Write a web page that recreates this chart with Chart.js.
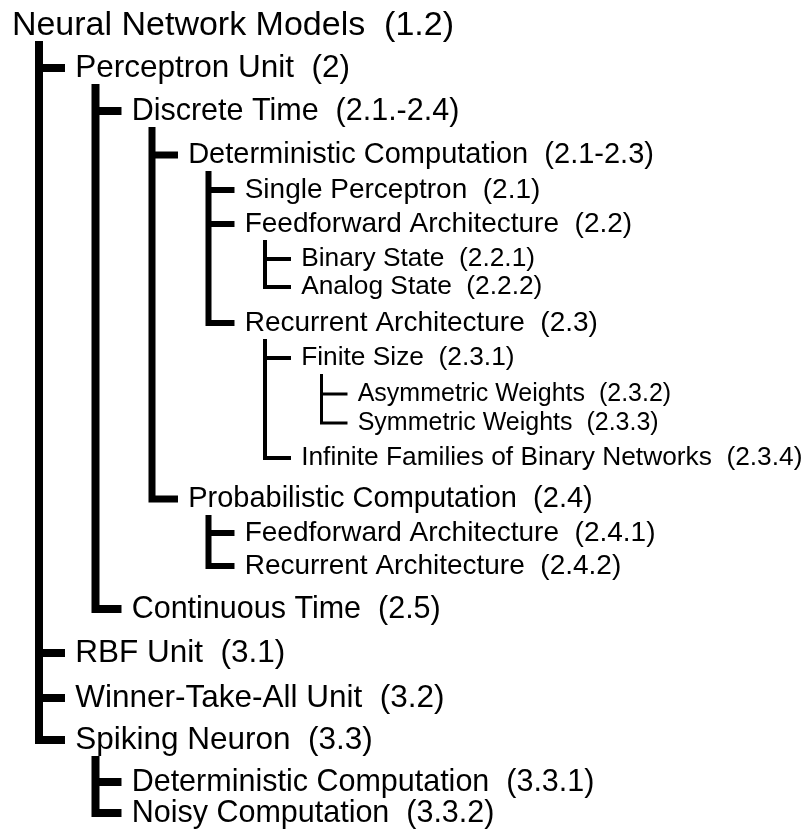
<!DOCTYPE html>
<html>
<head>
<meta charset="utf-8">
<script src="https://cdn.jsdelivr.net/npm/chart.js@4.4.1/dist/chart.umd.min.js"></script>
<style>
  html, body { margin: 0; padding: 0; background: #fff; }
  canvas { display: block; }
</style>
</head>
<body>
<canvas id="arbol" width="812" height="832"></canvas>
<script>
// Nodos del arbol, en orden de lectura
const labels = [
  "Neural Network Models",
  "Perceptron Unit",
  "Discrete Time",
  "Deterministic Computation",
  "Single Perceptron",
  "Feedforward Architecture",
  "Binary State",
  "Analog State",
  "Recurrent Architecture",
  "Finite Size",
  "Asymmetric Weights",
  "Symmetric Weights",
  "Infinite Families of Binary Networks",
  "Probabilistic Computation",
  "Feedforward Architecture",
  "Recurrent Architecture",
  "Continuous Time",
  "RBF Unit",
  "Winner-Take-All Unit",
  "Spiking Neuron",
  "Deterministic Computation",
  "Noisy Computation",
];
const codes = [
  "1.2", "2", "2.1.-2.4", "2.1-2.3", "2.1", "2.2", "2.2.1", "2.2.2",
  "2.3", "2.3.1", "2.3.2", "2.3.3", "2.3.4", "2.4", "2.4.1", "2.4.2",
  "2.5", "3.1", "3.2", "3.3", "3.3.1", "3.3.2",
];
const depths = [0, 1, 2, 3, 4, 4, 5, 5, 4, 5, 6, 6, 5, 3, 4, 4, 2, 1, 1, 1, 2, 2];
const rows = [
  25, 68, 111, 155, 190, 224, 259, 287, 323, 358, 394,
  423, 458, 499, 533, 566, 609, 653, 698, 740, 782, 813,
];

// Estilos por nivel
const fontSize = [34, 31.5, 30.5, 29, 28, 26.3, 25];
const lineWidth = [8, 8, 7, 6, 4, 3];
const STUB = 0.46;      // largo de la rama horizontal
const TEXT_GAP = 0.64;  // donde empieza el texto
const STEM_GAP = 16;    // espacio bajo el padre

function childrenOf(i) {
  const kids = [];
  for (let j = i + 1; j < depths.length; j++) {
    if (depths[j] <= depths[i]) break;
    if (depths[j] === depths[i] + 1) kids.push(j);
  }
  return kids;
}

// Un dataset por cada nodo con hijos: tallo vertical + ramas
const datasets = [];
labels.forEach((lab, i) => {
  const kids = childrenOf(i);
  if (!kids.length) return;
  const d = depths[i];
  const last = kids[kids.length - 1];
  const pts = [
    { x: d, y: rows[i] + STEM_GAP },
    { x: d, y: rows[last] },
    { x: d + STUB, y: rows[last] },
  ];
  kids.slice(0, -1).forEach((k) => {
    pts.push({ x: d, y: null });
    pts.push({ x: d, y: rows[k] });
    pts.push({ x: d + STUB, y: rows[k] });
  });
  datasets.push({
    data: pts,
    showLine: true,
    spanGaps: false,
    borderColor: "#000",
    borderWidth: lineWidth[d],
    borderCapStyle: "butt",
    borderJoinStyle: "miter",
    pointRadius: 0,
    tension: 0,
  });
});

// Plugin para escribir los textos de cada nodo
const nodeText = {
  id: "nodeText",
  afterDatasetsDraw(chart) {
    const { ctx, scales } = chart;
    ctx.save();
    ctx.fillStyle = "#000";
    ctx.textBaseline = "alphabetic";
    labels.forEach((lab, i) => {
      const d = depths[i];
      const size = fontSize[d];
      ctx.font = size + 'px "Liberation Sans", Arial, Helvetica, sans-serif';
      const px = scales.x.getPixelForValue(d === 0 ? -0.48 : d - 1 + TEXT_GAP);
      const py = scales.y.getPixelForValue(rows[i]) + 0.28 * size;
      ctx.fillText(lab + "  (" + codes[i] + ")", px, py);
    });
    ctx.restore();
  },
};

new Chart(document.getElementById("arbol"), {
  type: "scatter",
  data: { datasets: datasets },
  options: {
    responsive: false,
    animation: false,
    devicePixelRatio: 1,
    layout: { padding: 0 },
    scales: {
      x: { type: "linear", min: -39 / 56.5, max: (812 - 39) / 56.5, display: false },
      y: { type: "linear", min: 0, max: 832, reverse: true, display: false },
    },
    plugins: { legend: { display: false }, tooltip: { enabled: false } },
  },
  plugins: [nodeText],
});
</script>
</body>
</html>
